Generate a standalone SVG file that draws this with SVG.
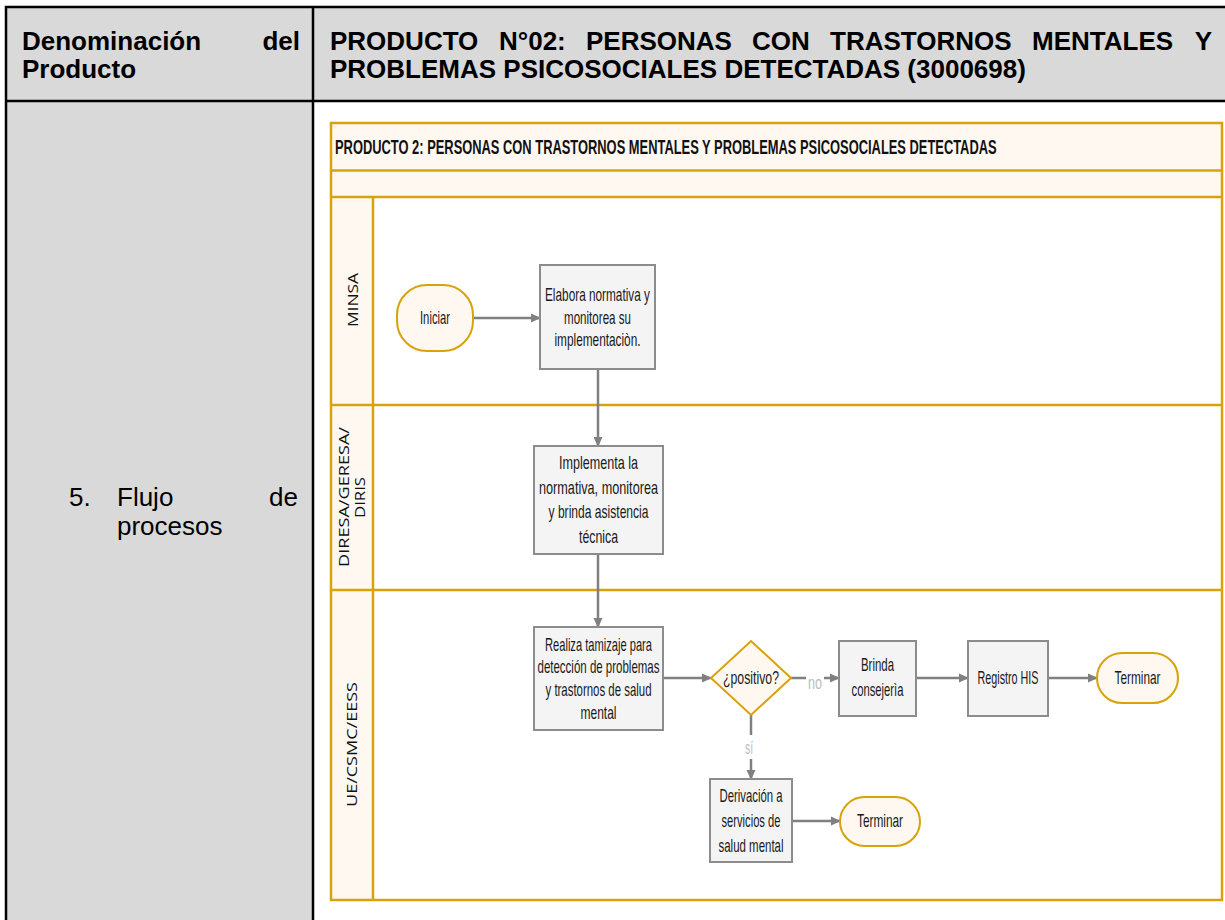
<svg xmlns="http://www.w3.org/2000/svg" width="1225" height="920" viewBox="0 0 1225 920">
<defs>
<marker id="arr" markerWidth="10" markerHeight="10" refX="9" refY="5" orient="auto" markerUnits="userSpaceOnUse">
<path d="M0,0.5 L10,5 L0,9.5 Z" fill="#808080"/>
</marker>
<style>
.hdr{font-family:"Liberation Sans",Arial,sans-serif;font-size:26px;font-weight:bold;fill:#000}
.body{font-family:"Liberation Sans",Arial,sans-serif;font-size:26px;fill:#000}
.ttl{font-family:"Liberation Sans",Arial,sans-serif;font-size:20px;font-weight:bold;fill:#111}
.lane{font-family:"Open Sans","Liberation Sans",sans-serif;font-size:14.5px;fill:#111}
.t{font-family:"Liberation Sans",Arial,sans-serif;font-size:18.5px;fill:#1a1a1a;text-anchor:middle}
.lbl{font-family:"Liberation Sans",Arial,sans-serif;font-size:18.5px;fill:#bdbdbd;text-anchor:middle}
.box{fill:#f4f4f4;stroke:#8c8c8c;stroke-width:2}
.term{fill:#fef8f1;stroke:#d8a20a;stroke-width:2}
.gold{fill:none;stroke:#d8a20a;stroke-width:2.5}
.conn{fill:none;stroke:#808080;stroke-width:2.5;marker-end:url(#arr)}
</style>
</defs>
<rect width="1225" height="920" fill="#fff"/>
<g id="table">
<rect x="6" y="7" width="1222" height="94" fill="#d9d9d9"/>
<rect x="6" y="101" width="307" height="830" fill="#d9d9d9"/>
<rect x="6" y="7" width="1222" height="930" fill="none" stroke="#000" stroke-width="2.5"/>
<line x1="6" y1="101" x2="1228" y2="101" stroke="#000" stroke-width="2.5"/>
<line x1="313" y1="7" x2="313" y2="930" stroke="#000" stroke-width="2.5"/>
<text class="hdr" x="22" y="50">Denominación</text>
<text class="hdr" x="300" y="50" text-anchor="end">del</text>
<text class="hdr" x="22" y="78">Producto</text>
<text class="hdr" x="330" y="50">PRODUCTO</text>
<text class="hdr" x="499" y="50">N°02:</text>
<text class="hdr" x="586" y="50">PERSONAS</text>
<text class="hdr" x="752" y="50">CON</text>
<text class="hdr" x="830" y="50">TRASTORNOS</text>
<text class="hdr" x="1032" y="50">MENTALES</text>
<text class="hdr" x="1212" y="50" text-anchor="end">Y</text>
<text class="hdr" x="330" y="78">PROBLEMAS PSICOSOCIALES DETECTADAS (3000698)</text>
<text class="body" x="69" y="506">5.</text>
<text class="body" x="117" y="506">Flujo</text>
<text class="body" x="298" y="506" text-anchor="end">de</text>
<text class="body" x="117" y="535">procesos</text>
</g>
<g id="pool">
<rect x="331" y="123" width="891" height="74" fill="#fef8f1"/>
<rect x="331" y="197" width="42" height="703" fill="#fef8f1"/>
<line x1="331" y1="170.5" x2="1222" y2="170.5" class="gold"/>
<line x1="331" y1="197" x2="1222" y2="197" class="gold"/>
<line x1="331" y1="405" x2="1222" y2="405" class="gold"/>
<line x1="331" y1="590" x2="1222" y2="590" class="gold"/>
<line x1="373" y1="197" x2="373" y2="900" class="gold"/>
<rect x="331" y="123" width="891" height="777" class="gold"/>
<text class="ttl" transform="translate(335,154) scale(0.645,1)" x="0" y="0">PRODUCTO 2: PERSONAS CON TRASTORNOS MENTALES Y PROBLEMAS PSICOSOCIALES DETECTADAS</text>
<text class="lane" transform="translate(352.5,300) rotate(-90)" x="0" y="5" text-anchor="middle" textLength="54" lengthAdjust="spacingAndGlyphs">MINSA</text>
<text class="lane" transform="translate(343.5,497) rotate(-90)" x="0" y="5" text-anchor="middle" textLength="140" lengthAdjust="spacingAndGlyphs">DIRESA/GERESA/</text>
<text class="lane" transform="translate(360,497.5) rotate(-90)" x="0" y="5" text-anchor="middle" textLength="41" lengthAdjust="spacingAndGlyphs">DIRIS</text>
<text class="lane" transform="translate(352,744.5) rotate(-90)" x="0" y="5" text-anchor="middle" textLength="125" lengthAdjust="spacingAndGlyphs">UE/CSMC/EESS</text>
</g>
<g id="connectors">
<path class="conn" d="M473,318 H540"/>
<path class="conn" d="M598,369 V446"/>
<path class="conn" d="M598,554 V627"/>
<path class="conn" d="M663,678 H711"/>
<path class="conn" d="M791,678 H839"/>
<path class="conn" d="M916,678 H968"/>
<path class="conn" d="M1048,678 H1097"/>
<path class="conn" d="M751,715 V779"/>
<path class="conn" d="M792,821 H840"/>
<rect x="806" y="671" width="18" height="20" fill="#fff"/>
<text class="lbl" x="815" y="689" textLength="14" lengthAdjust="spacingAndGlyphs">no</text>
<rect x="742" y="735" width="16" height="24" fill="#fff"/>
<text class="lbl" x="749" y="754" textLength="8" lengthAdjust="spacingAndGlyphs">sí</text>
</g>
<g id="iniciar">
<rect x="397" y="285" width="76" height="66" rx="30" ry="30" class="term"/>
<text class="t" x="435" y="324" textLength="30" lengthAdjust="spacingAndGlyphs">Iniciar</text>
</g>
<g id="elabora">
<rect x="540" y="265" width="115" height="104" class="box"/>
<text class="t" x="597.5" y="301" textLength="105" lengthAdjust="spacingAndGlyphs">Elabora normativa  y</text>
<text class="t" x="597.5" y="323.5" textLength="67" lengthAdjust="spacingAndGlyphs">monitorea su</text>
<text class="t" x="597.5" y="346" textLength="86" lengthAdjust="spacingAndGlyphs">implementaciòn.</text>
</g>
<g id="implementa">
<rect x="534" y="446" width="129" height="108" class="box"/>
<text class="t" x="598.5" y="469" textLength="79" lengthAdjust="spacingAndGlyphs">Implementa la</text>
<text class="t" x="598.5" y="494" textLength="119" lengthAdjust="spacingAndGlyphs">normativa, monitorea</text>
<text class="t" x="598.5" y="518" textLength="100" lengthAdjust="spacingAndGlyphs">y brinda asistencia</text>
<text class="t" x="598.5" y="543" textLength="39" lengthAdjust="spacingAndGlyphs">técnica</text>
</g>
<g id="realiza">
<rect x="534" y="627" width="129" height="103" class="box"/>
<text class="t" x="598.5" y="651" textLength="107" lengthAdjust="spacingAndGlyphs">Realiza tamizaje para</text>
<text class="t" x="598.5" y="673" textLength="122" lengthAdjust="spacingAndGlyphs">detección de problemas</text>
<text class="t" x="598.5" y="696" textLength="106" lengthAdjust="spacingAndGlyphs">y trastornos de salud</text>
<text class="t" x="598.5" y="719" textLength="36" lengthAdjust="spacingAndGlyphs">mental</text>
</g>
<g id="decision">
<polygon points="751,641 791,678 751,715 711,678" fill="#fef8f1" stroke="#d8a20a" stroke-width="2"/>
<text class="t" x="751" y="684" textLength="56" lengthAdjust="spacingAndGlyphs">¿positivo?</text>
</g>
<g id="brinda">
<rect x="839" y="641" width="77" height="75" class="box"/>
<text class="t" x="877.5" y="671" textLength="33" lengthAdjust="spacingAndGlyphs">Brinda</text>
<text class="t" x="877.5" y="696" textLength="52" lengthAdjust="spacingAndGlyphs">consejerìa</text>
</g>
<g id="registro">
<rect x="968" y="641" width="80" height="75" class="box"/>
<text class="t" x="1008" y="684" textLength="61" lengthAdjust="spacingAndGlyphs">Registro HIS</text>
</g>
<g id="terminar1">
<rect x="1097" y="653" width="81" height="50" rx="25" ry="25" class="term"/>
<text class="t" x="1137.5" y="684" textLength="46" lengthAdjust="spacingAndGlyphs">Terminar</text>
</g>
<g id="derivacion">
<rect x="710" y="779" width="82" height="83" class="box"/>
<text class="t" x="751" y="802" textLength="63" lengthAdjust="spacingAndGlyphs">Derivación a</text>
<text class="t" x="751" y="827" textLength="59" lengthAdjust="spacingAndGlyphs">servicios de</text>
<text class="t" x="751" y="852" textLength="65" lengthAdjust="spacingAndGlyphs">salud mental</text>
</g>
<g id="terminar2">
<rect x="840" y="797" width="80" height="49" rx="24.5" ry="24.5" class="term"/>
<text class="t" x="880" y="827" textLength="46" lengthAdjust="spacingAndGlyphs">Terminar</text>
</g>
</svg>
